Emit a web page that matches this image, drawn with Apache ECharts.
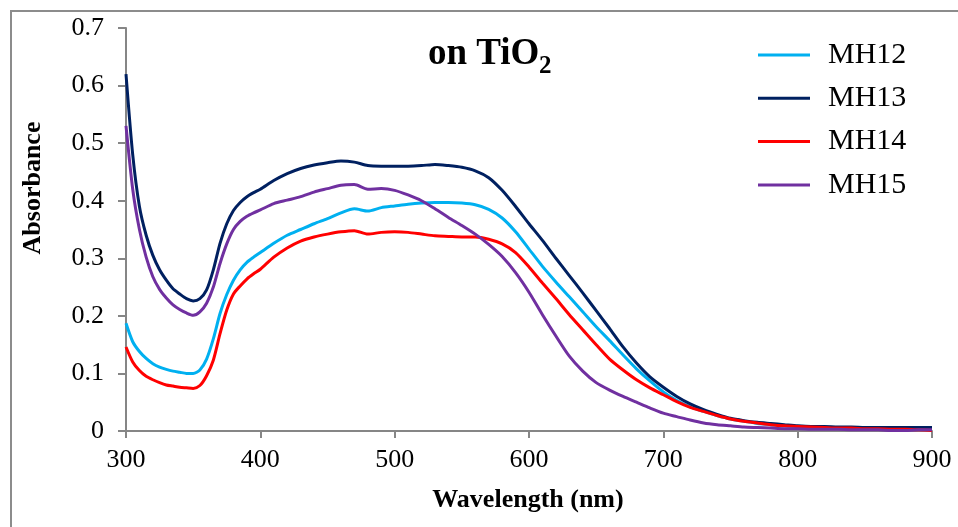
<!DOCTYPE html>
<html>
<head>
<meta charset="utf-8">
<script src="https://cdn.jsdelivr.net/npm/echarts@6/dist/echarts.min.js"></script>
<style>html,body{margin:0;padding:0;background:#fff;}#c{width:958px;height:527px;}</style>
</head>
<body>
<div id="c"></div>
<script>
const wavelengths = [300,305,310,315,320,325,330,335,340,345,350,355,360,365,370,375,380,385,390,395,400,
410,420,430,440,450,460,470,480,490,500,
510,520,530,540,550,560,570,580,590,600,
610,620,630,640,650,660,670,680,690,700,
710,720,730,740,750,760,770,780,790,800,
810,820,830,840,850,860,870,880,890,900];

const MH12 = [0.187,0.155,0.138,0.126,0.117,0.111,0.107,0.104,0.102,0.100,0.100,0.106,0.125,0.160,0.204,0.237,0.262,0.280,0.293,0.302,0.310,
0.326,0.340,0.350,0.360,0.369,0.379,0.386,0.382,0.388,0.391,
0.394,0.396,0.397,0.397,0.396,0.393,0.385,0.370,0.346,0.316,
0.286,0.259,0.233,0.207,0.181,0.157,0.132,0.108,0.087,0.068,
0.053,0.042,0.034,0.027,0.021,0.017,0.013,0.011,0.009,0.008,
0.007,0.006,0.006,0.005,0.005,0.005,0.004,0.004,0.004,0.004];

const MH13 = [0.62,0.48,0.39,0.34,0.305,0.28,0.262,0.247,0.238,0.230,0.226,0.230,0.245,0.280,0.326,0.360,0.383,0.397,0.407,0.414,0.420,
0.435,0.447,0.456,0.462,0.466,0.469,0.467,0.461,0.460,0.460,
0.460,0.461,0.463,0.461,0.458,0.452,0.440,0.418,0.390,0.360,
0.331,0.300,0.270,0.240,0.209,0.178,0.146,0.118,0.094,0.076,
0.060,0.047,0.037,0.029,0.022,0.018,0.015,0.013,0.011,0.009,
0.008,0.008,0.007,0.007,0.006,0.006,0.006,0.006,0.006,0.006];

const MH14 = [0.146,0.120,0.105,0.095,0.089,0.084,0.080,0.078,0.076,0.075,0.074,0.079,0.096,0.123,0.169,0.210,0.238,0.252,0.264,0.273,0.281,
0.302,0.318,0.330,0.337,0.342,0.346,0.348,0.342,0.345,0.346,
0.345,0.342,0.339,0.338,0.337,0.337,0.333,0.325,0.310,0.285,
0.257,0.230,0.202,0.176,0.150,0.125,0.106,0.089,0.075,0.063,
0.051,0.041,0.034,0.027,0.021,0.017,0.014,0.011,0.009,0.008,
0.007,0.006,0.005,0.005,0.004,0.004,0.003,0.003,0.002,0.001];

const MH15 = [0.53,0.42,0.35,0.302,0.268,0.246,0.231,0.219,0.211,0.205,0.201,0.207,0.222,0.250,0.291,0.325,0.350,0.364,0.373,0.379,0.384,
0.395,0.401,0.407,0.415,0.421,0.427,0.428,0.420,0.421,0.418,
0.410,0.400,0.386,0.371,0.357,0.342,0.324,0.303,0.275,0.241,
0.202,0.165,0.130,0.104,0.084,0.071,0.060,0.050,0.040,0.031,
0.025,0.019,0.014,0.011,0.009,0.007,0.006,0.005,0.004,0.004,
0.003,0.003,0.003,0.002,0.002,0.002,0.001,0.001,0.002,0.002];

const seriesNames = ['MH12','MH13','MH14','MH15'];
const seriesValues = [MH12, MH13, MH14, MH15];
const seriesColors = ['#00b0f0','#002060','#ff0000','#7030a0'];

const xTicks = [300,400,500,600,700,800,900];
const yTicks = [0,0.1,0.2,0.3,0.4,0.5,0.6,0.7];

const FONT = "'Liberation Serif','Times New Roman',serif";
const AXIS_GREY = '#868686';

const chart = echarts.init(document.getElementById('c'), null, {renderer:'canvas'});

const option = {
  backgroundColor: '#fff',
  animation: false,
  grid: {left:126, right:26, top:28, bottom:96, containLabel:false, outerBoundsMode:'none'},
  legend: {
    orient: 'vertical',
    left: 753,
    top: 35,
    itemWidth: 52,
    itemHeight: 3,
    itemGap: 13.3,
    icon: 'rect',
    textStyle: {fontFamily: FONT, fontSize: 30, color:'#000', padding:[0,0,0,13], lineHeight:30},
    data: seriesNames
  },
  xAxis: {
    type: 'value',
    min: 300, max: 900, interval: 100,
    axisLine: {show:true, lineStyle:{color:AXIS_GREY, width:2}},
    axisTick: {show:true, length:7, lineStyle:{color:AXIS_GREY, width:2}},
    axisLabel: {fontFamily: FONT, fontSize: 26, color:'#000', margin:16,
      formatter: v => xTicks.includes(v) ? String(v) : ''},
    splitLine: {show:false}
  },
  yAxis: {
    type: 'value',
    min: 0, max: 0.7, interval: 0.1,
    axisLine: {show:true, lineStyle:{color:AXIS_GREY, width:2}},
    axisTick: {show:true, length:8, lineStyle:{color:AXIS_GREY, width:2}},
    axisLabel: {fontFamily: FONT, fontSize: 26, color:'#000', margin:22,
      formatter: v => {
        const t = yTicks.find(y => Math.abs(y - v) < 1e-9);
        return t === undefined ? '' : (t === 0 ? '0' : t.toFixed(1));
      }},
    splitLine: {show:false}
  },
  series: seriesNames.map((name, i) => ({
    name: name,
    type: 'line',
    data: wavelengths.map((w, j) => [w, seriesValues[i][j]]),
    showSymbol: false,
    symbol: 'none',
    smooth: 0.25,
    lineStyle: {color: seriesColors[i], width: 3},
    itemStyle: {color: seriesColors[i]}
  })),
  graphic: [
    {type:'rect', shape:{x:11, y:11, width:1000, height:600}, style:{fill:'none', stroke:'#8c8c8c', lineWidth:2}, silent:true, z:-1},
    {type:'text', x:428, y:54.5, style:{text:'on TiO', font:"bold 37px " + FONT, fill:'#000', verticalAlign:'middle', align:'left'}},
    {type:'text', x:539, y:67, style:{text:'2', font:"bold 25px " + FONT, fill:'#000', verticalAlign:'middle', align:'left'}},
    {type:'text', x:33, y:188, rotation: Math.PI/2, style:{text:'Absorbance', font:"bold 26px " + FONT, fill:'#000', verticalAlign:'middle', align:'center'}},
    {type:'text', x:528, y:500, style:{text:'Wavelength (nm)', font:"bold 26px " + FONT, fill:'#000', verticalAlign:'middle', align:'center'}}
  ]
};
chart.setOption(option);
</script>
</body>
</html>
